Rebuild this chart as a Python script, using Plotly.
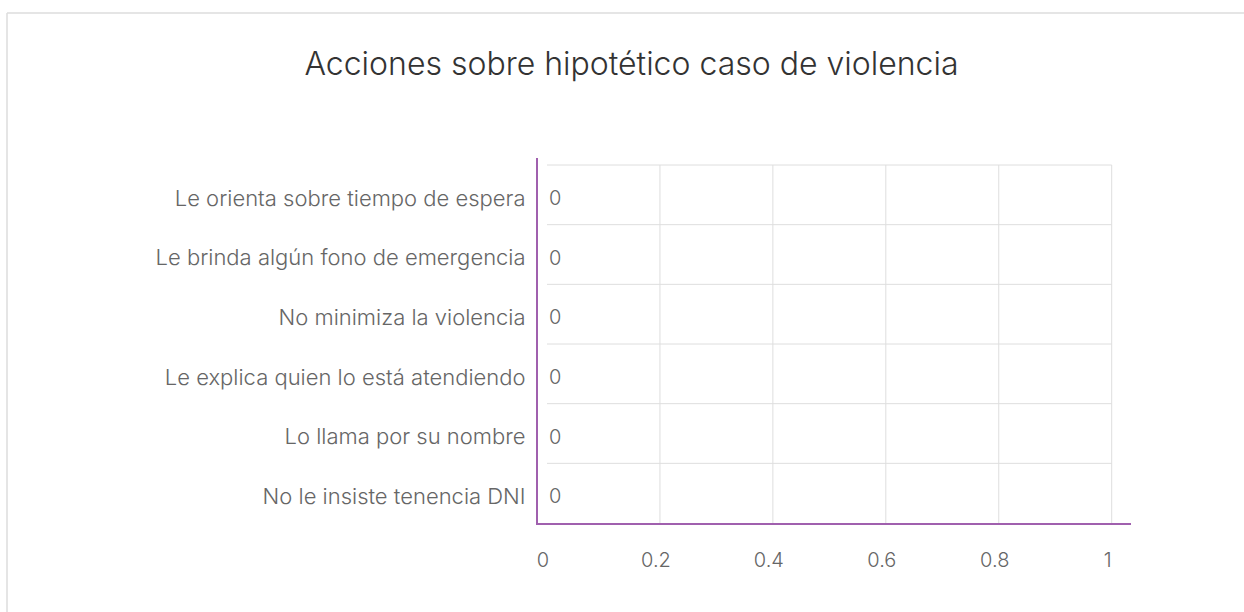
import plotly.graph_objects as go

categories = [
    "Le orienta sobre tiempo de espera",
    "Le brinda algún fono de emergencia",
    "No minimiza la violencia",
    "Le explica quien lo está atendiendo",
    "Lo llama por su nombre",
    "No le insiste tenencia DNI",
]
values = [0, 0, 0, 0, 0, 0]
x_ticks = [0, 0.2, 0.4, 0.6, 0.8, 1]
x_tick_labels = ["0", "0.2", "0.4", "0.6", "0.8", "1"]
title_text = "Acciones sobre hipotético caso de violencia"

FONT = "Inter"
TXT = "#666666"
GRID = "#dedede"
AXIS = "#a060ae"

W, H = 1244, 612
ML, MR, MT, MB = 538, 113, 158, 89
pw = W - ML - MR
ph = H - MT - MB

n = len(categories)
fig = go.Figure()
fig.add_trace(go.Bar(
    x=values, y=list(range(n)), orientation="h",
    marker=dict(color=AXIS, line=dict(width=0)), hoverinfo="skip",
))

# value labels next to each bar
for i, v in enumerate(values):
    fig.add_annotation(x=v, y=i, xref="x", yref="y", text=str(v), showarrow=False,
                       xanchor="left", yanchor="middle", xshift=0, yshift=-3,
                       font=dict(family=FONT, size=20, color=TXT, weight=300))

# gridlines (vertical at x ticks, horizontal at category boundaries)
for t in x_ticks[1:]:
    fig.add_shape(type="line", xref="x", yref="y", x0=t, x1=t, y0=-0.5, y1=n - 0.5,
                  line=dict(color=GRID, width=1), layer="below")
for k in range(n):
    fig.add_shape(type="line", xref="x", yref="y", x0=x_ticks[0], x1=x_ticks[-1],
                  y0=k - 0.5, y1=k - 0.5, line=dict(color=GRID, width=1), layer="below")

# outer border (top and left edges visible)
bx = (7 - ML) / pw
by = (H - MB - 13) / ph
fig.add_shape(type="line", xref="paper", yref="paper", x0=bx, x1=1.5, y0=by, y1=by,
              line=dict(color="#dddddd", width=1.5))
fig.add_shape(type="line", xref="paper", yref="paper", x0=bx, x1=bx, y0=by, y1=-0.5,
              line=dict(color="#dddddd", width=1.5))

unit = 564.7
fig.update_layout(
    width=W, height=H,
    margin=dict(l=ML, r=MR, t=MT, b=MB, pad=0),
    paper_bgcolor="white", plot_bgcolor="white",
    showlegend=False,
    title=dict(text=title_text, x=631.5 / W, xanchor="center", xref="container",
               y=1 - 64 / H, yanchor="middle", yref="container",
               font=dict(family=FONT, size=32, color="#333333", weight=300)),
    xaxis=dict(range=[-9 / unit, (pw - 9) / unit], tickvals=x_ticks, ticktext=x_tick_labels,
               showgrid=False, zeroline=False, showline=True, linecolor=AXIS, linewidth=2,
               ticks="", ticklabelstandoff=18, ticklabelshift=-4,
               tickfont=dict(family=FONT, size=20, color=TXT, weight=300)),
    yaxis=dict(range=[n - 0.5, -0.5 - 7 / (358 / n)], tickvals=list(range(n)), ticktext=categories,
               showgrid=False, zeroline=False, showline=True, linecolor=AXIS, linewidth=2,
               ticks="", ticklabelstandoff=6, ticklabelshift=-3,
               tickfont=dict(family=FONT, size=22, color=TXT, weight=300)),
)

fig.write_html("out.html", config={"displayModeBar": False},
               post_script="document.body.style.margin='0';document.body.style.overflow='hidden';")
